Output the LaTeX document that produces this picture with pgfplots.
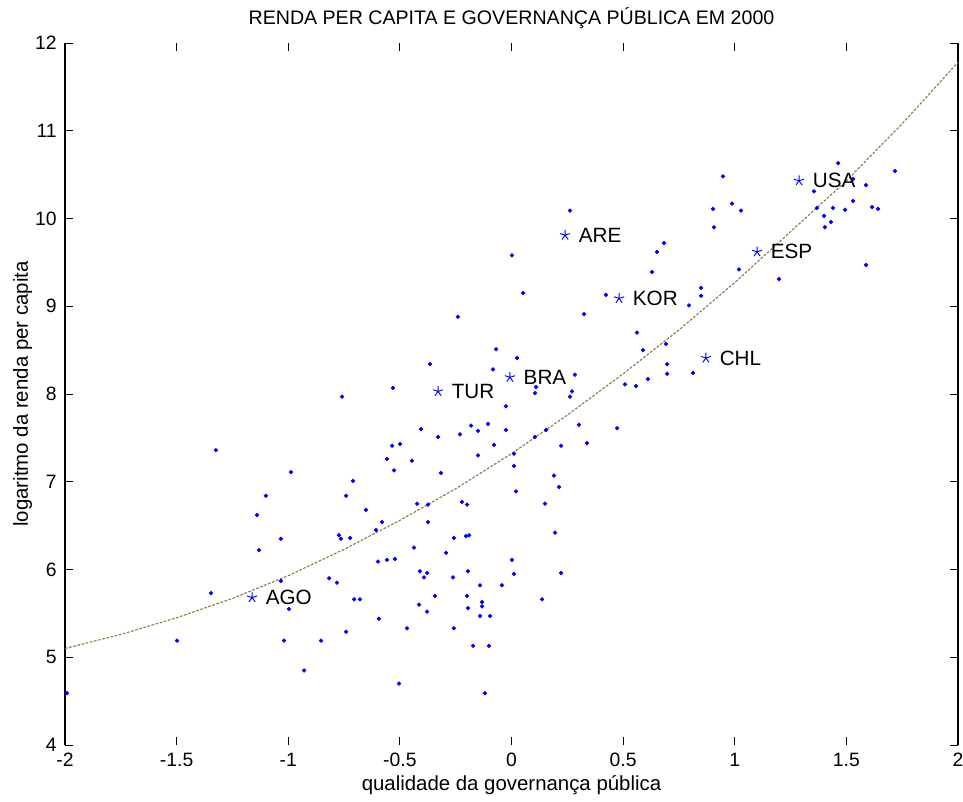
\documentclass[border=0pt]{standalone}
\usepackage{fontspec}
\setmainfont{Liberation Sans}
\usepackage{pgfplots}
\usepackage{pgfplotstable}
\pgfplotsset{compat=1.18}

\definecolor{fitline}{RGB}{140,115,60}

% countries shown as dots
\pgfplotstableread{
x y
-1.991 4.59
-1.498 5.19
-1.346 5.73
-1.324 7.36
-1.131 6.22
-1.140 6.62
-1.100 6.84
-1.033 6.35
-1.033 5.87
-0.997 5.55
-1.019 5.19
-0.988 7.11
-0.929 4.85
-0.853 5.19
-0.817 5.90
-0.782 5.85
-0.741 5.29
-0.773 6.39
-0.764 6.35
-0.723 6.36
-0.759 7.97
-0.741 6.84
-0.710 7.01
-0.705 5.66
-0.679 5.66
-0.652 6.68
-0.607 6.45
-0.580 6.54
-0.598 6.09
-0.558 6.11
-0.522 6.12
-0.594 5.44
-0.504 4.70
-0.531 8.07
-0.558 7.26
-0.535 7.41
-0.499 7.43
-0.526 7.13
-0.446 7.24
-0.468 5.33
-0.437 6.25
-0.423 6.75
-0.405 7.60
-0.365 8.34
-0.410 5.98
-0.378 5.96
-0.392 5.91
-0.414 5.60
-0.378 5.52
-0.374 6.74
-0.374 6.54
-0.343 5.70
-0.329 7.51
-0.316 7.10
-0.293 6.19
-0.262 5.91
-0.258 6.36
-0.258 5.33
-0.240 8.88
-0.231 7.54
-0.222 6.77
-0.199 6.74
-0.204 6.38
-0.190 6.39
-0.195 5.98
-0.199 5.70
-0.195 5.56
-0.172 5.13
-0.101 5.13
-0.181 7.64
-0.150 7.58
-0.150 7.30
-0.105 7.66
-0.078 7.42
-0.069 8.51
-0.083 8.28
-0.141 5.82
-0.132 5.63
-0.132 5.58
-0.141 5.47
-0.096 5.47
-0.119 4.59
-0.043 5.82
0.002 6.11
0.011 5.95
-0.025 7.86
-0.025 7.59
0.011 7.32
0.011 7.18
0.020 6.89
0.002 9.58
0.025 8.41
0.052 9.15
0.105 8.01
0.110 8.08
0.105 7.51
0.155 7.59
0.150 6.75
0.137 5.66
0.195 6.42
0.190 7.07
0.213 6.94
0.222 7.41
0.222 5.96
0.262 10.09
0.271 8.03
0.262 7.97
0.284 8.22
0.302 7.65
0.338 7.44
0.325 8.91
0.423 9.13
0.473 7.61
0.508 8.11
0.558 8.09
0.562 8.70
0.589 8.50
0.611 8.17
0.629 9.39
0.652 9.62
0.683 9.72
0.692 8.57
0.697 8.34
0.697 8.23
0.795 9.01
0.813 8.24
0.849 9.21
0.849 9.12
0.903 10.11
0.907 9.90
0.947 10.48
0.988 10.17
1.028 10.09
1.019 9.42
1.198 9.31
1.355 10.31
1.368 10.12
1.400 10.03
1.404 9.90
1.431 9.96
1.440 10.12
1.463 10.63
1.494 10.10
1.530 10.45
1.530 10.20
1.588 10.38
1.588 9.47
1.615 10.13
1.642 10.11
1.718 10.54
}\dots

% highlighted countries
\pgfplotstableread{
x y label
-0.329 8.03 TUR
-0.007 8.19 BRA
0.240 9.81 ARE
0.482 9.09 KOR
0.871 8.41 CHL
1.100 9.62 ESP
1.288 10.43 USA
-1.162 5.68 AGO
}\stars

% fitted curve
\pgfplotstableread{
x y
-2.00 5.10
-1.75 5.26
-1.50 5.45
-1.25 5.67
-1.00 5.93
-0.75 6.23
-0.50 6.56
-0.25 6.92
0.00 7.32
0.25 7.76
0.50 8.23
0.75 8.73
1.00 9.27
1.25 9.85
1.50 10.43
1.75 11.08
2.00 11.78
}\fit

\begin{document}
\begin{tikzpicture}
\path[use as bounding box] (-48.75pt,-42pt) rectangle (673.5pt,558.75pt);
\begin{axis}[
    scale only axis,
    width=669.75pt, height=526.5pt,
    xmin=-2, xmax=2, ymin=4, ymax=12,
    clip=false,
    font=\fontsize{14.5}{16}\selectfont,
    tick pos=both, tick align=inside,
    major tick length=6pt,
    separate axis lines,
    x axis line style={draw=none},
    y axis line style={line width=0.8pt},
    every tick/.style={black, line width=0.6pt},
    xtick={-2,-1.5,-1,-0.5,0,0.5,1,1.5,2},
    xticklabels={-2,-1.5,-1,-0.5,0,0.5,1,1.5,2},
    ytick={4,5,6,7,8,9,10,11,12},
    yticklabels={4,5,6,7,8,9,10,11,12},
    xticklabel style={anchor=base, inner sep=0pt, yshift=-16pt},
    yticklabel style={anchor=east, inner sep=0pt, xshift=-6pt},
    title={RENDA PER CAPITA E GOVERNANÇA PÚBLICA EM 2000},
    title style={at={(axis description cs:0.5,1)}, anchor=base, inner sep=0pt, yshift=8pt, font=\fontsize{14.7}{16}\selectfont},
    xlabel={qualidade da governança pública},
    xlabel style={at={(axis description cs:0.5,0)}, anchor=base, inner sep=0pt, yshift=-34pt, font=\fontsize{15.3}{17}\selectfont},
]
\addplot[fitline, line width=0.8pt, dash pattern=on 2pt off 1.2pt] table {\fit};
\addplot[only marks, mark=*, blue, mark size=1.4pt] table {\dots};
\addplot[only marks, mark=star, blue, mark size=4pt, line width=0.7pt,
    nodes near coords, point meta=explicit symbolic,
    nodes near coords style={anchor=west, black, inner sep=0pt, xshift=10pt, yshift=0pt, font=\fontsize{15.5}{17}\selectfont}]
    table[meta=label] {\stars};
\node[rotate=90, anchor=base, inner sep=0pt, font=\fontsize{15.3}{17}\selectfont] at ([xshift=-27.75pt]axis description cs:0,0.5) {logaritmo da renda per capita};
\end{axis}
\end{tikzpicture}
\end{document}
